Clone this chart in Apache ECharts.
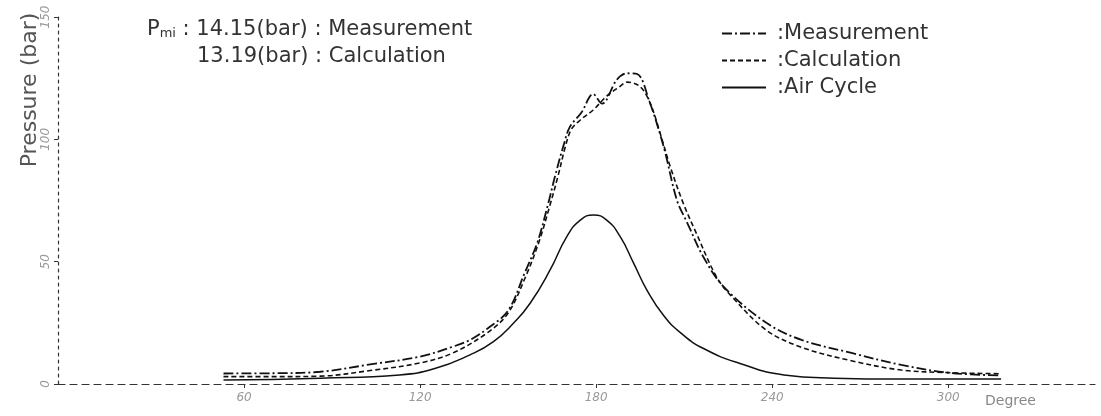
<!DOCTYPE html>
<html>
<head>
<meta charset="utf-8">
<script src="https://cdn.jsdelivr.net/npm/echarts@6/dist/echarts.min.js"></script>
<style>
  html, body { margin: 0; padding: 0; background: #fff; }
  #chart { width: 1101px; height: 416px; }
</style>
</head>
<body>
<div id="chart"></div>
<script>
// crank angle (deg) / pressure (bar)
var measDeg = [53, 70, 86, 103, 120, 131, 137, 143, 150, 155.5, 160, 163.5, 166, 169, 171, 175, 179, 182, 187, 190.5, 194, 198, 203, 207.5, 211, 216.5, 223.5, 238, 250, 267, 284, 301, 318];
var measP   = [4.3, 4.4, 5.0, 8.0, 11.2, 15.2, 18, 22.7, 30, 45, 58, 73, 85, 98, 105, 111, 118.5, 114.6, 124.3, 127, 126.7, 116, 97, 75.2, 66, 52, 39.7, 25, 18, 12.7, 7.8, 4.5, 3.5];

var calcDeg = [53, 70, 86, 103, 120, 131, 143, 150, 156, 160.5, 164, 167, 169.5, 171.5, 174.6, 179, 183.6, 188, 190.6, 195, 198.4, 201.8, 205.2, 209.7, 214, 221, 226, 238, 250, 267, 284, 301, 318];
var calcP   = [3.0, 3.0, 3.2, 5.5, 8.6, 12.6, 21, 29, 44, 58, 72, 85, 97, 104, 107.9, 112, 117.7, 121.5, 123.4, 121.5, 114.8, 102.5, 89, 73.8, 62, 43.8, 36, 22, 15, 9.5, 5.7, 4.6, 4.2];

var airDeg = [53, 86, 113, 125, 137, 145, 151.8, 157.5, 164.3, 170, 174.6, 179.1, 183.6, 188.2, 192.8, 197.3, 203, 208.7, 216.6, 229, 244, 261, 284, 318];
var airP   = [1.6, 2.4, 3.7, 6.3, 11.9, 17.3, 24.8, 33, 46.6, 60.2, 67, 69.1, 67, 60.2, 49.3, 38.4, 28, 21, 14.5, 8.4, 3.7, 2.4, 2.0, 2.0];

var xTicks = [60, 120, 180, 240, 300];
var yTicks = [0, 50, 100, 150];

function zip(a, b) {
    var out = [];
    for (var i = 0; i < a.length; i++) out.push([a[i], b[i]]);
    return out;
}

var font = 'DejaVu Sans';
var myChart = echarts.init(document.getElementById('chart'));
myChart.setOption({
    animation: false,
    backgroundColor: '#fff',
    color: ['#111', '#111', '#111'],
    grid: { left: 58, right: 6, top: 17, bottom: 32 },
    legend: {
        orient: 'vertical',
        left: 716,
        top: 18,
        itemWidth: 44,
        itemHeight: 14,
        itemGap: 6,
        itemStyle: { opacity: 0 },
        formatter: ':{name}',
        textStyle: { fontFamily: font, fontSize: 21, color: '#333', padding: [0, 0, 0, 6] },
        data: ['Measurement', 'Calculation', 'Air Cycle']
    },
    xAxis: {
        type: 'value',
        min: -3.4,
        max: 350,
        axisLine: { show: true, onZero: false, lineStyle: { color: '#333', width: 1.2, type: [7, 5] } },
        axisTick: { show: true, length: 4, customValues: xTicks, lineStyle: { color: '#333' } },
        axisLabel: {
            customValues: xTicks, margin: 8, color: '#999', fontStyle: 'italic',
            fontFamily: font, fontSize: 12
        },
        splitLine: { show: false }
    },
    yAxis: {
        type: 'value',
        min: 0,
        max: 150,
        axisLine: { show: true, onZero: false, lineStyle: { color: '#333', width: 1.2, type: [3, 4] } },
        axisTick: { show: true, length: 4, customValues: yTicks, lineStyle: { color: '#333' } },
        axisLabel: {
            customValues: yTicks, rotate: 90, margin: 6, color: '#999', fontStyle: 'italic',
            fontFamily: font, fontSize: 12
        },
        splitLine: { show: false }
    },
    graphic: [
        {
            type: 'text', x: 30, y: 90, rotation: Math.PI / 2,
            style: { text: 'Pressure (bar)', fontFamily: font, fontSize: 22, fill: '#555',
                     align: 'center', verticalAlign: 'middle' }
        },
        {
            type: 'text', x: 147, y: 19,
            style: {
                text: '{p|P}{s|mi}{p| : 14.15(bar) : Measurement}',
                rich: {
                    p: { fontFamily: font, fontSize: 21, fill: '#333' },
                    s: { fontFamily: font, fontSize: 13, fill: '#333', padding: [8, 0, 0, 0] }
                }
            }
        },
        {
            type: 'text', x: 197, y: 46,
            style: { text: '13.19(bar) : Calculation', fontFamily: font, fontSize: 21, fill: '#333' }
        },
        {
            type: 'text', x: 985, y: 394,
            style: { text: 'Degree', fontFamily: font, fontSize: 14, fill: '#888' }
        }
    ],
    series: [
        {
            name: 'Measurement', type: 'line', data: zip(measDeg, measP),
            smooth: 0.35, symbol: 'none',
            lineStyle: { color: '#111', width: 1.8, type: [10, 3, 2, 3] }
        },
        {
            name: 'Calculation', type: 'line', data: zip(calcDeg, calcP),
            smooth: 0.35, symbol: 'none',
            lineStyle: { color: '#111', width: 1.6, type: [5, 3] }
        },
        {
            name: 'Air Cycle', type: 'line', data: zip(airDeg, airP),
            smooth: 0.5, symbol: 'none',
            lineStyle: { color: '#111', width: 1.5 }
        }
    ]
});
</script>
</body>
</html>
